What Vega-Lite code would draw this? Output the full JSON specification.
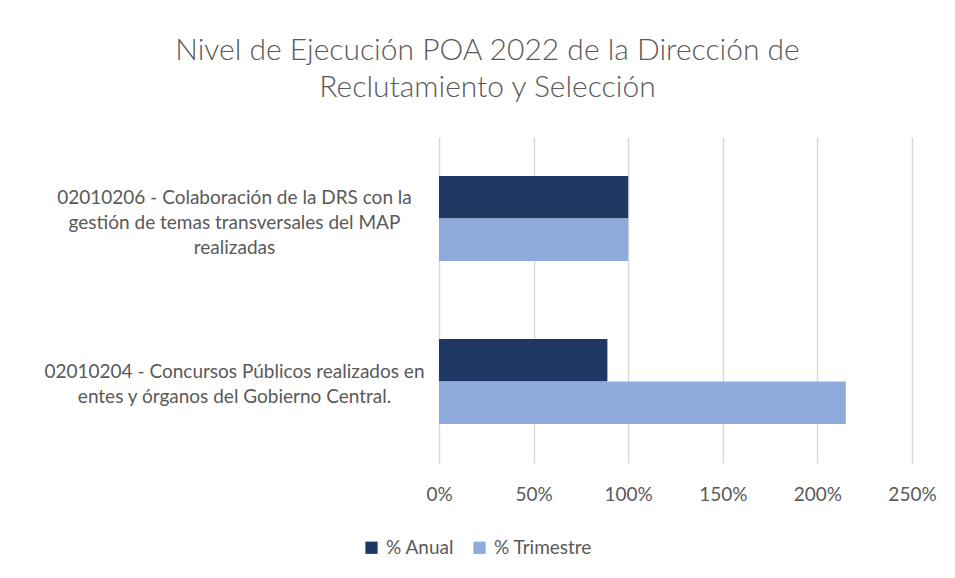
{
  "$schema": "https://vega.github.io/schema/vega-lite/v6.json",
  "autosize": {"type": "none"},
  "width": 473,
  "height": 326,
  "padding": {"left": 439, "top": 137, "right": 43, "bottom": 115},
  "background": "white",
  "title": {
    "text": ["Nivel de Ejecución POA 2022 de la Dirección de", "Reclutamiento y Selección"],
    "font": "Lato",
    "fontSize": 30,
    "fontWeight": 300,
    "color": "#595959",
    "anchor": "middle",
    "dx": -188,
    "lineHeight": 37,
    "offset": 34
  },
  "data": {
    "values": [
      {"cat": "02010206 - Colaboración de la DRS con la gestión de temas transversales del MAP realizadas", "serie": "% Anual", "valor": 1.0},
      {"cat": "02010206 - Colaboración de la DRS con la gestión de temas transversales del MAP realizadas", "serie": "% Trimestre", "valor": 1.0},
      {"cat": "02010204 - Concursos Públicos realizados en entes y órganos del Gobierno Central.", "serie": "% Anual", "valor": 0.89},
      {"cat": "02010204 - Concursos Públicos realizados en entes y órganos del Gobierno Central.", "serie": "% Trimestre", "valor": 2.15}
    ]
  },
  "mark": {"type": "bar"},
  "encoding": {
    "y": {
      "field": "cat",
      "type": "nominal",
      "sort": [
        "02010206 - Colaboración de la DRS con la gestión de temas transversales del MAP realizadas",
        "02010204 - Concursos Públicos realizados en entes y órganos del Gobierno Central."
      ],
      "scale": {"paddingInner": 0.48, "paddingOuter": 0.24},
      "axis": {
        "title": null,
        "domain": false,
        "ticks": false,
        "labelAlign": "center",
        "labelBaseline": "middle",
        "labelPadding": 205,
        "labelLimit": 0,
        "labelFont": "Lato",
        "labelFontSize": 19,
        "labelColor": "#595959",
        "labelLineHeight": 25,
        "labelOffset": {
          "condition": {"test": "indexof(datum.label, '02010206') == 0", "value": -21},
          "value": -10
        },
        "labelExpr": "indexof(datum.label, '02010206') == 0 ? ['02010206 - Colaboración de la DRS con la', 'gestión de temas transversales del MAP', 'realizadas'] : ['02010204 - Concursos Públicos realizados en', 'entes y órganos del Gobierno Central.']"
      }
    },
    "yOffset": {
      "field": "serie",
      "type": "nominal",
      "sort": ["% Anual", "% Trimestre"]
    },
    "x": {
      "field": "valor",
      "type": "quantitative",
      "scale": {"domain": [0, 2.5], "nice": false},
      "axis": {
        "title": null,
        "domain": false,
        "ticks": false,
        "values": [0, 0.5, 1, 1.5, 2, 2.5],
        "format": ".0%",
        "labelFlush": false,
        "labelFont": "Lato",
        "labelFontSize": 19,
        "labelColor": "#595959",
        "labelPadding": 22,
        "gridColor": "#D9D9D9",
        "gridWidth": 1.5
      }
    },
    "color": {
      "field": "serie",
      "type": "nominal",
      "scale": {"domain": ["% Anual", "% Trimestre"], "range": ["#1F3864", "#8FAADC"]},
      "legend": {
        "title": null,
        "orient": "none",
        "direction": "horizontal",
        "legendX": -77,
        "legendY": 401,
        "symbolType": "square",
        "symbolSize": 150,
        "symbolStrokeWidth": 0,
        "labelFont": "Lato",
        "labelFontSize": 19,
        "labelColor": "#595959",
        "columnPadding": 15,
        "labelOffset": 5
      }
    }
  },
  "config": {
    "view": {"stroke": null}
  }
}
